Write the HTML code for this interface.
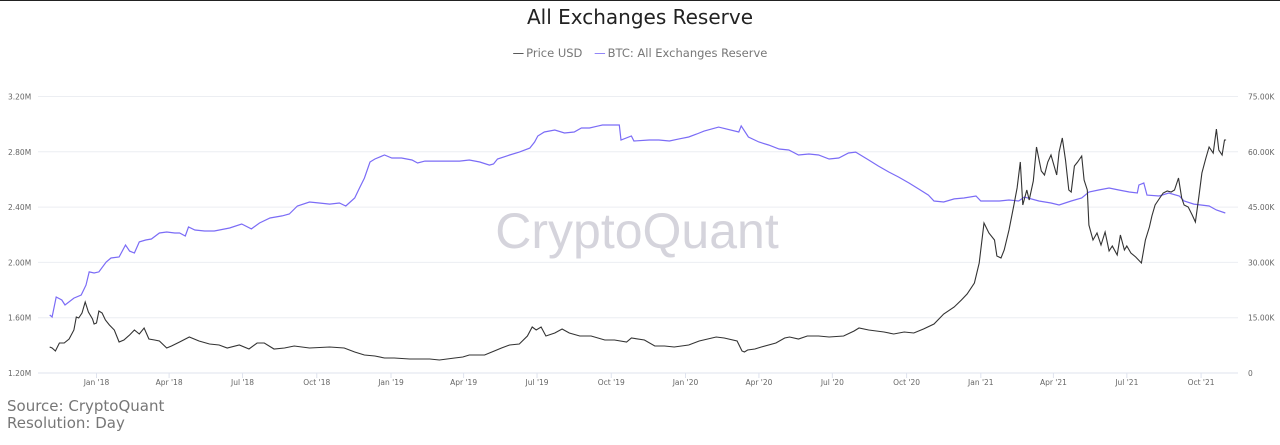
<!DOCTYPE html>
<html><head><meta charset="utf-8">
<style>
html,body{margin:0;padding:0;background:#fff;width:1280px;height:445px;overflow:hidden;font-family:"DejaVu Sans","Liberation Sans",sans-serif;}
#topline{position:absolute;left:0;top:0;width:1280px;height:1px;background:#222;}
#title{position:absolute;left:0;top:5px;width:1280px;text-align:center;font-size:20px;color:#222;}
#legend{position:absolute;left:0;top:46px;width:1280px;text-align:center;font-size:11.5px;color:#777;}
#legend span{margin:0 4px;}
#source{position:absolute;left:7px;top:398px;font-size:15px;line-height:17px;color:#777;}
svg{position:absolute;left:0;top:0;}
</style></head>
<body>
<div id="topline"></div>
<div id="title">All Exchanges Reserve</div>
<div id="legend">
<span><span style="color:#333;margin:0 2px 0 0">—</span>Price USD</span>
<span><span style="color:#7b6cf6;margin:0 2px 0 0">—</span>BTC: All Exchanges Reserve</span>
</div>
<svg id="chart" width="1280" height="445">
<text x="637" y="248" text-anchor="middle" font-size="50" fill="#d5d4dc" font-family="'Liberation Sans',sans-serif">CryptoQuant</text>
</svg>
<div id="source">Source: CryptoQuant<br>Resolution: Day</div>
<script>
const leftTicks=[1.2,1.6,2.0,2.4,2.8,3.2];
const leftTickLabels=["1.20M","1.60M","2.00M","2.40M","2.80M","3.20M"];
const rightTicks=[0,15,30,45,60,75];
const rightTickLabels=["0","15.00K","30.00K","45.00K","60.00K","75.00K"];
const xTickDates=["2018-01-01","2018-04-01","2018-07-01","2018-10-01","2019-01-01","2019-04-01","2019-07-01","2019-10-01","2020-01-01","2020-04-01","2020-07-01","2020-10-01","2021-01-01","2021-04-01","2021-07-01","2021-10-01"];
const xTickLabels=["Jan '18","Apr '18","Jul '18","Oct '18","Jan '19","Apr '19","Jul '19","Oct '19","Jan '20","Apr '20","Jul '20","Oct '20","Jan '21","Apr '21","Jul '21","Oct '21"];
const reserveDates=["2017-11-04","2017-11-07","2017-11-12","2017-11-19","2017-11-23","2017-12-04","2017-12-13","2017-12-19","2017-12-23","2017-12-29","2018-01-04","2018-01-13","2018-01-19","2018-01-29","2018-02-06","2018-02-11","2018-02-17","2018-02-23","2018-03-03","2018-03-10","2018-03-20","2018-03-29","2018-04-08","2018-04-14","2018-04-21","2018-04-25","2018-05-03","2018-05-15","2018-05-27","2018-06-15","2018-06-30","2018-07-12","2018-07-22","2018-08-04","2018-08-19","2018-08-28","2018-09-07","2018-09-22","2018-10-04","2018-10-17","2018-10-29","2018-11-06","2018-11-17","2018-11-23","2018-11-29","2018-12-06","2018-12-12","2018-12-24","2019-01-02","2019-01-14","2019-01-27","2019-02-03","2019-02-12","2019-02-24","2019-03-27","2019-04-08","2019-04-21","2019-05-03","2019-05-08","2019-05-13","2019-05-28","2019-06-09","2019-06-22","2019-06-28","2019-07-02","2019-07-10","2019-07-23","2019-08-04","2019-08-16","2019-08-25","2019-09-04","2019-09-15","2019-09-20","2019-10-11","2019-10-13","2019-10-26","2019-10-29","2019-11-17","2019-11-29","2019-12-12","2019-12-24","2020-01-05","2020-01-15","2020-01-24","2020-02-11","2020-03-07","2020-03-10","2020-03-19","2020-04-01","2020-04-13","2020-04-26","2020-05-08","2020-05-20","2020-06-02","2020-06-14","2020-06-27","2020-07-09","2020-07-21","2020-07-30","2020-08-15","2020-08-27","2020-09-09","2020-09-21","2020-10-04","2020-10-16","2020-10-28","2020-11-04","2020-11-16","2020-11-29","2020-12-11","2020-12-26","2021-01-01","2021-01-24","2021-02-05","2021-02-17","2021-02-24","2021-03-14","2021-03-29","2021-04-08","2021-04-23","2021-05-06","2021-05-15","2021-05-27","2021-06-09","2021-06-21","2021-07-04","2021-07-14","2021-07-16","2021-07-22","2021-07-26","2021-08-10","2021-08-22","2021-09-04","2021-09-10","2021-09-22","2021-10-11","2021-10-20","2021-10-31"];
const reserveValues=[1.620,1.605,1.750,1.728,1.692,1.742,1.764,1.836,1.931,1.923,1.931,2.003,2.032,2.039,2.126,2.082,2.068,2.148,2.162,2.169,2.213,2.220,2.213,2.213,2.191,2.256,2.234,2.227,2.227,2.249,2.278,2.242,2.285,2.321,2.336,2.350,2.408,2.437,2.430,2.422,2.430,2.408,2.466,2.538,2.610,2.726,2.748,2.777,2.755,2.755,2.741,2.719,2.733,2.733,2.733,2.741,2.726,2.704,2.712,2.748,2.777,2.798,2.827,2.871,2.914,2.943,2.958,2.936,2.943,2.972,2.972,2.987,2.994,2.994,2.885,2.914,2.878,2.885,2.885,2.878,2.893,2.907,2.929,2.950,2.979,2.943,2.987,2.907,2.871,2.849,2.820,2.813,2.777,2.784,2.777,2.748,2.755,2.791,2.798,2.741,2.697,2.654,2.618,2.574,2.531,2.487,2.444,2.437,2.459,2.466,2.480,2.444,2.444,2.451,2.444,2.473,2.444,2.430,2.415,2.444,2.466,2.509,2.524,2.538,2.524,2.509,2.502,2.560,2.574,2.487,2.480,2.502,2.480,2.444,2.422,2.408,2.379,2.357];
const priceDates=["2017-11-04","2017-11-07","2017-11-11","2017-11-16","2017-11-22","2017-11-28","2017-12-04","2017-12-07","2017-12-10","2017-12-14","2017-12-18","2017-12-22","2017-12-27","2017-12-29","2018-01-01","2018-01-04","2018-01-08","2018-01-12","2018-01-17","2018-01-23","2018-01-29","2018-02-04","2018-02-11","2018-02-17","2018-02-23","2018-03-01","2018-03-07","2018-03-14","2018-03-20","2018-03-29","2018-04-04","2018-04-14","2018-04-26","2018-05-08","2018-05-21","2018-06-02","2018-06-12","2018-06-27","2018-07-09","2018-07-19","2018-07-28","2018-08-09","2018-08-22","2018-09-03","2018-09-22","2018-10-17","2018-11-04","2018-11-17","2018-11-29","2018-12-12","2018-12-24","2019-01-05","2019-01-24","2019-02-18","2019-03-02","2019-03-21","2019-03-31","2019-04-08","2019-04-27","2019-05-09","2019-05-18","2019-05-28","2019-06-09","2019-06-19","2019-06-25","2019-06-30","2019-07-06","2019-07-12","2019-07-23","2019-08-01","2019-08-10","2019-08-23","2019-09-06","2019-09-23","2019-10-05","2019-10-20","2019-10-26","2019-11-11","2019-11-24","2019-12-06","2019-12-18","2020-01-05","2020-01-18","2020-02-08","2020-02-18","2020-03-05","2020-03-11","2020-03-14","2020-03-18","2020-03-27","2020-04-04","2020-04-22","2020-05-03","2020-05-09","2020-05-20","2020-05-31","2020-06-14","2020-06-27","2020-07-15","2020-07-28","2020-08-03","2020-08-15","2020-09-03","2020-09-15","2020-09-28","2020-10-10","2020-10-22","2020-11-04","2020-11-16","2020-11-29","2020-12-08","2020-12-15","2020-12-24","2020-12-30","2021-01-05","2021-01-11","2021-01-18","2021-01-21","2021-01-26","2021-01-30","2021-02-05","2021-02-11","2021-02-15","2021-02-19","2021-02-22","2021-02-27","2021-03-02","2021-03-07","2021-03-11","2021-03-17","2021-03-21","2021-03-25","2021-03-29","2021-04-05","2021-04-08","2021-04-12","2021-04-16","2021-04-20","2021-04-23","2021-04-27","2021-05-01","2021-05-06","2021-05-09","2021-05-13","2021-05-15","2021-05-20","2021-05-25","2021-05-30","2021-06-04","2021-06-09","2021-06-13","2021-06-19","2021-06-23","2021-06-28","2021-07-01","2021-07-06","2021-07-12","2021-07-19","2021-07-24","2021-07-29","2021-08-01","2021-08-05","2021-08-10","2021-08-15","2021-08-20","2021-08-25","2021-08-29","2021-09-03","2021-09-07","2021-09-10","2021-09-15","2021-09-20","2021-09-24","2021-09-28","2021-10-02","2021-10-07","2021-10-11","2021-10-16","2021-10-20","2021-10-23","2021-10-27","2021-10-30","2021-11-01"];
const priceValues=[7.05,6.78,5.97,8.14,8.14,9.22,11.66,15.19,14.92,16.27,19.26,16.54,14.64,13.29,13.56,16.81,16.27,14.37,13.02,11.66,8.41,8.95,10.31,11.66,10.58,12.20,9.22,8.95,8.68,6.78,7.32,8.41,9.76,8.68,7.86,7.59,6.78,7.59,6.51,8.14,8.14,6.51,6.78,7.32,6.78,7.05,6.78,5.70,4.88,4.61,4.07,4.07,3.80,3.80,3.53,4.07,4.34,4.88,4.88,5.97,6.78,7.59,7.86,10.03,12.48,11.66,12.48,10.03,10.85,11.93,10.85,10.03,10.03,8.95,8.95,8.41,9.49,8.95,7.32,7.32,7.05,7.59,8.68,9.76,9.49,8.68,5.97,5.70,6.24,6.51,7.05,8.14,9.49,9.76,9.22,10.03,10.03,9.76,10.03,11.39,12.20,11.66,11.12,10.58,11.12,10.85,11.93,13.29,16.00,17.90,19.80,21.42,24.41,29.83,40.68,37.97,36.07,31.73,31.19,33.36,38.78,45.56,50.17,57.22,45.56,49.63,46.92,52.07,61.29,54.78,53.70,57.22,59.12,53.70,59.94,63.73,57.77,49.63,49.09,56.14,57.22,58.85,52.34,49.63,40.14,36.07,37.97,34.71,38.24,33.09,34.44,32.00,37.43,33.36,34.44,32.54,31.46,29.83,36.07,39.60,42.58,45.56,47.19,48.82,49.36,49.09,49.63,52.88,47.46,45.56,45.02,42.85,40.95,47.46,54.24,58.31,61.29,59.66,66.17,60.48,59.12,63.19,63.19];

const svg=document.getElementById('chart');
const NS='http://www.w3.org/2000/svg';
const PL=38,PR=1238,PT=96.5,PB=373;
const T0=Date.UTC(2018,0,1), X0=96.5, PXD=294.5/365;
function day(s){const p=s.split('-');return (Date.UTC(+p[0],+p[1]-1,+p[2])-T0)/86400000;}
function xS(s){return X0+day(s)*PXD;}
function yL(v){return PB-(v-1.2)/2.0*(PB-PT);}
function yR(v){return PB-v/75*(PB-PT);}
function mk(tag,attrs){const e=document.createElementNS(NS,tag);for(const k in attrs)e.setAttribute(k,attrs[k]);svg.appendChild(e);return e;}
leftTicks.forEach((v,i)=>{
  const g=mk('line',{x1:PL,x2:PR,y1:yL(v),y2:yL(v),stroke:i===0?'#dfe3ee':'#eceef2','stroke-width':1});
  
  
  const t=mk('text',{x:8,y:yL(v)+3,'font-size':7.5,fill:'#666'});t.textContent=leftTickLabels[i];
  
  
});
rightTicks.forEach((v,i)=>{
  const t=mk('text',{x:1248,y:yR(v)+3,'font-size':7.5,fill:'#666'});t.textContent=rightTickLabels[i];
  
  
});
xTickDates.forEach((d,i)=>{
  const x=xS(d);
  const l=mk('line',{x1:x,x2:x,y1:PB,y2:PB+5,stroke:'#dfe3ee'});
  
  
  const t=mk('text',{x:x,y:PB+12,'font-size':7.5,fill:'#666','text-anchor':'middle'});t.textContent=xTickLabels[i];
  
  
});
function path(dates,vals,yf){return dates.map((d,i)=>(i?'L':'M')+xS(d).toFixed(1)+','+yf(vals[i]).toFixed(1)).join('');}
const rp=mk('path',{d:path(reserveDates,reserveValues,yL),fill:'none',stroke:'#7b6cf6','stroke-width':1.2});


const pp=mk('path',{d:path(priceDates,priceValues,yR),fill:'none',stroke:'#333','stroke-width':1.1});


</script>
</body></html>
